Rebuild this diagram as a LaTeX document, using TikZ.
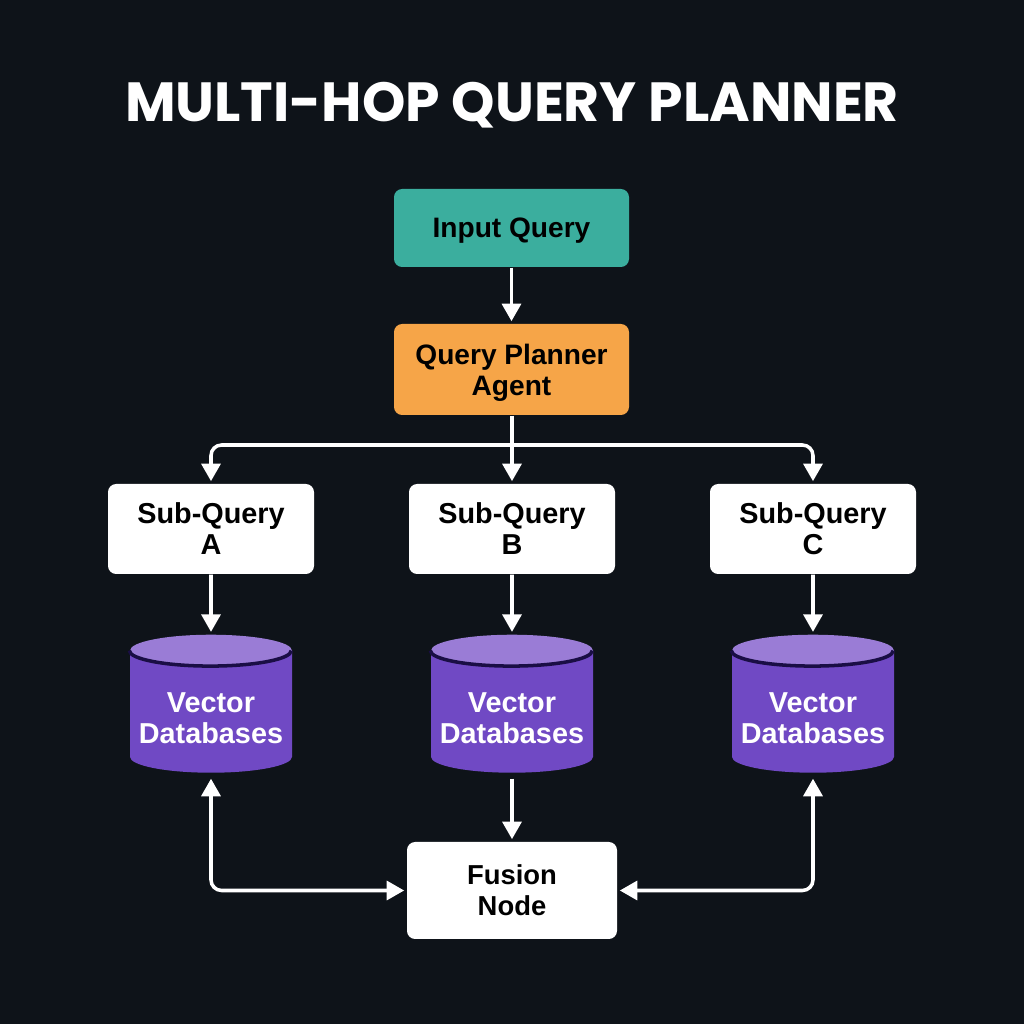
\documentclass[tikz,border=0pt]{standalone}
\usepackage{fontspec}
\setmainfont{Liberation Sans}
\newfontfamily\titlefont{Poppins}
\usetikzlibrary{arrows.meta,shapes.geometric}
\definecolor{bgdark}{HTML}{0E1319}
\definecolor{inputteal}{HTML}{3BAE9E}
\definecolor{planorange}{HTML}{F6A548}
\definecolor{dbbody}{HTML}{7049C4}
\definecolor{dbtop}{HTML}{9A7CD6}
\definecolor{dbline}{HTML}{1A0E45}
\newcommand{\nodescent}[1]{\raisebox{0pt}[\height][0pt]{#1}}
\tikzset{
    boxnode/.style={rectangle, rounded corners=2.3pt, align=center, text=black,
        font=\fontsize{8.2}{8.8}\selectfont\bfseries},
    dbnode/.style={cylinder, shape border rotate=90, aspect=0.22, cylinder uses custom fill,
        cylinder body fill=dbbody, cylinder end fill=dbtop, minimum width=1.62cm,
        minimum height=1.38cm, inner sep=0pt, align=center, text=white,
        font=\fontsize{8.2}{8.8}\selectfont\bfseries},
    flow/.style={draw=white, line width=1pt, rounded corners=3pt,
        -{Triangle[width=5.4pt,length=5pt]}},
    flowboth/.style={flow, {Triangle[width=5.4pt,length=5pt]}-{Triangle[width=5.4pt,length=5pt]}},
}
\begin{document}
\begin{tikzpicture}
    \useasboundingbox[fill=bgdark] (0, 0) rectangle (10.24, 10.24);
    \node[text=white] (title) at (5.12, 9.185) {\titlefont\fontsize{15.7}{18}\selectfont\bfseries MULTI-HOP QUERY PLANNER};
    \node[boxnode, fill=inputteal, minimum width=2.35cm, minimum height=0.78cm,
        font=\fontsize{8}{8.8}\selectfont\bfseries] (input) at (5.115, 7.96) {\nodescent{Input Query}};
    \node[boxnode, fill=planorange, minimum width=2.35cm, minimum height=0.91cm,
        font=\fontsize{8}{8.8}\selectfont\bfseries] (planner) at (5.115, 6.545) {Query Planner\\\nodescent{Agent}};
    \coordinate (split) at (5.12, 5.79);
    \draw[flow, shorten >=0.6pt] (input) -- (planner);
    % one column per sub-query
    \foreach \x/\name in {2.11/A, 5.12/B, 8.13/C} {
        \node[boxnode, fill=white, minimum width=2.06cm, minimum height=0.9cm] (sub\name) at (\x, 4.95) {Sub-Query\\\name};
        \node[dbnode] (db\name) at (\x, 3.12) {\rule{0pt}{9.4pt}Vector\\Databases};
        \draw[dbline, line width=1pt] (db\name.before top) arc[start angle=180, end angle=360, x radius=0.81, y radius=0.155];
        \draw[flow, shorten >=0.6pt] (sub\name) -- (db\name.north);
    }
    \node[boxnode, fill=white, minimum width=2.1cm, minimum height=0.97cm,
        font=\fontsize{7.8}{8.8}\selectfont\bfseries] (fusion) at (5.12, 1.335) {Fusion\\Node};
    \draw[flow, shorten >=0.6pt] (planner.south -| split) -- (subB);
    \draw[flow, shorten >=0.6pt] (split) -| (subA);
    \draw[flow, shorten >=0.6pt] (split) -| (subC);
    \draw[flow, shorten <=1.5pt, shorten >=0.6pt] (dbB) -- (fusion);
    \draw[flowboth, shorten <=1.5pt, shorten >=0.6pt] (dbA) |- (fusion);
    \draw[flowboth, shorten <=1.5pt, shorten >=0.6pt] (dbC) |- (fusion);
\end{tikzpicture}
\end{document}
